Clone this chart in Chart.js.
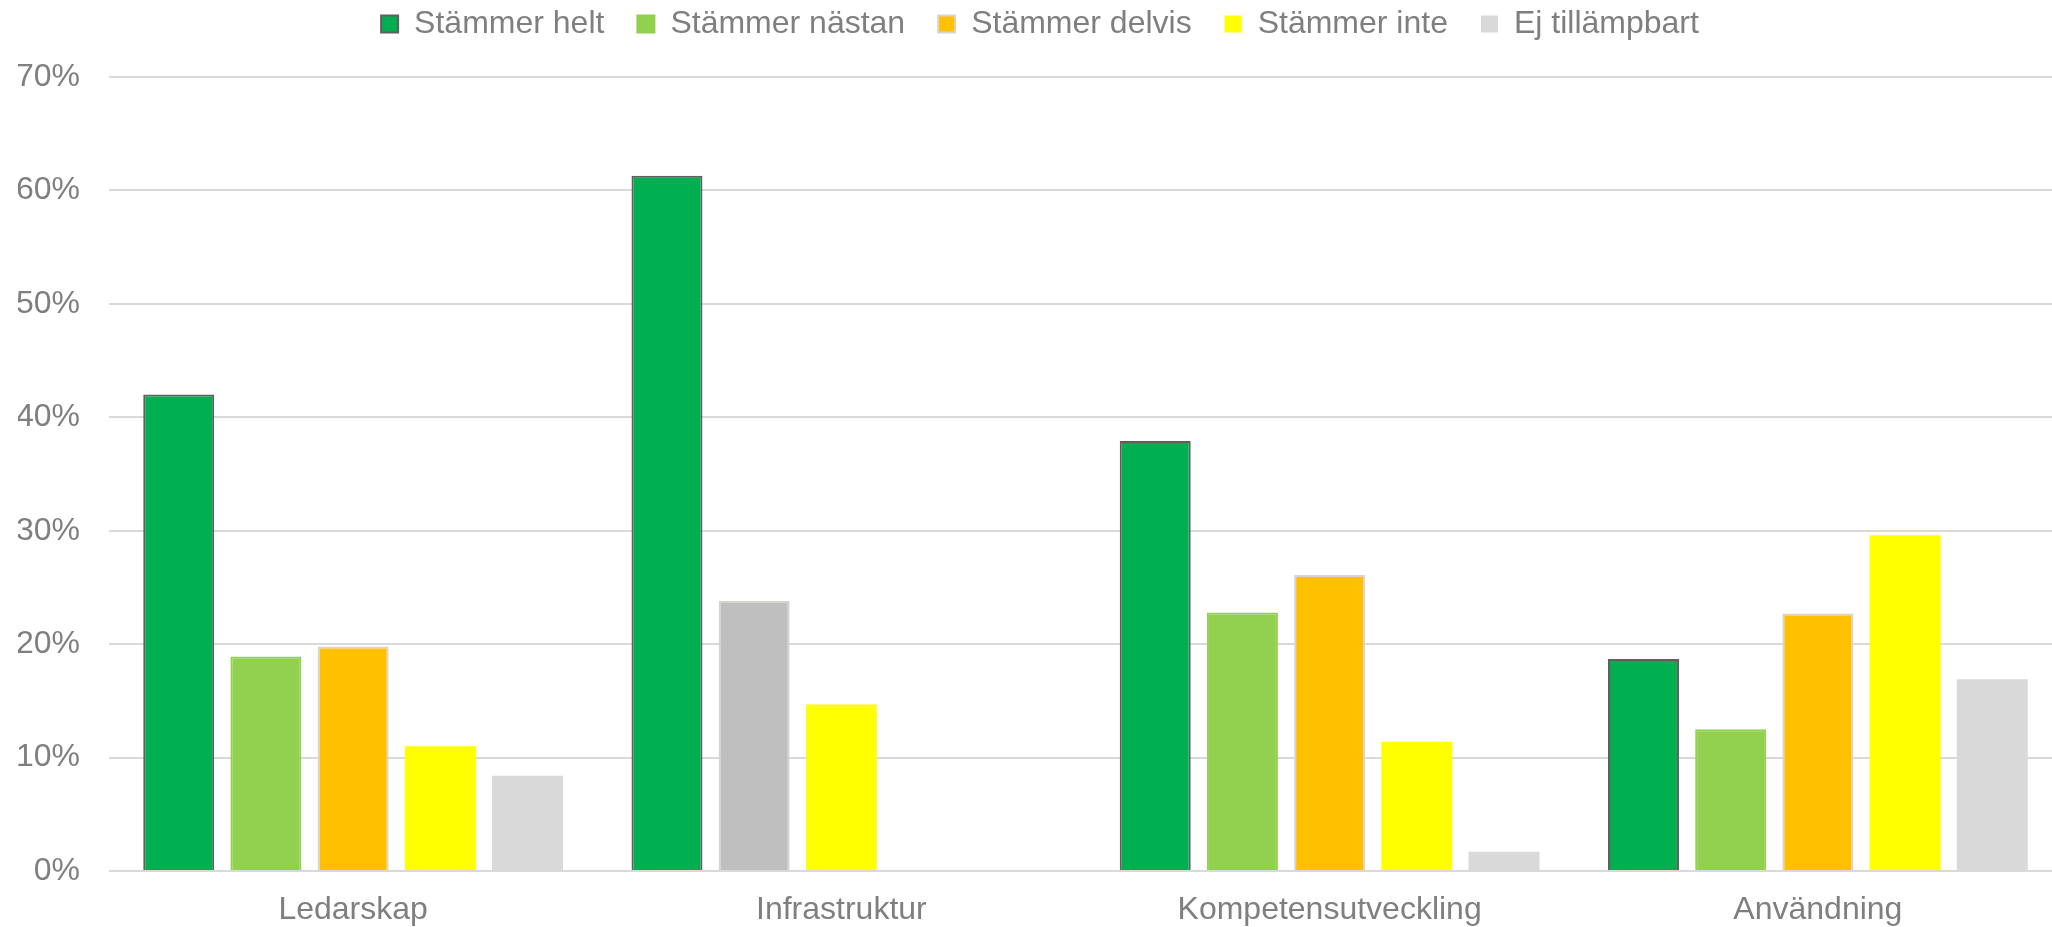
<!DOCTYPE html>
<html>
<head>
<meta charset="utf-8">
<script src="https://cdn.jsdelivr.net/npm/chart.js@4/dist/chart.umd.min.js"></script>
<style>
  html, body { margin: 0; padding: 0; background: #fff; overflow: hidden; }
  #wrap { width: 2062px; height: 927px; }
</style>
</head>
<body>
<div id="wrap"><canvas id="chart"></canvas></div>
<script>
// kategorier och serier (procent)
const categories = ['Ledarskap', 'Infrastruktur', 'Kompetensutveckling', 'Användning'];
const seriesNames = ['Stämmer helt', 'Stämmer nästan', 'Stämmer delvis', 'Stämmer inte', 'Ej tillämpbart'];
const helt = [42.0, 61.3, 37.9, 18.7];
const nastan = [18.9, 23.8, 22.8, 12.5];
const delvis = [19.8, 14.7, 26.1, 22.7];
const inte = [11.0, 0, 11.4, 29.6];
const ejTillampbart = [8.4, 0, 1.7, 16.9];
const yTicks = [0, 10, 20, 30, 40, 50, 60, 70];

// Infrastruktur har avvikande färger i originalet
const nastanFill = ['#92D050', '#BFBFBF', '#92D050', '#92D050'];
const nastanBorder = ['#92D050', '#D6D2CE', '#92D050', '#92D050'];
const delvisFill = ['#FFC000', '#FFFF00', '#FFC000', '#FFC000'];
const delvisBorder = ['#D9D4CF', '#FFFF00', '#D9D4CF', '#D9D4CF'];

function perPoint(arr, base) {
    return function(ctx) {
        return ctx.dataIndex === undefined ? base : arr[ctx.dataIndex];
    };
}

const font = { family: "'Liberation Sans', Arial, sans-serif", size: 32 };
const textColor = '#7F7F7F';

// flytta upp legenden utan att ändra diagramytan
const legendShift = {
    id: 'legendShift',
    afterLayout(chart) {
        chart.legend.top -= 27;
        chart.legend.bottom -= 27;
    }
};

new Chart(document.getElementById('chart').getContext('2d'), {
    type: 'bar',
    data: {
        labels: categories,
        datasets: [
            { label: seriesNames[0], data: helt, backgroundColor: '#00B050', borderColor: '#5F5F5F', borderWidth: 2 },
            { label: seriesNames[1], data: nastan, backgroundColor: perPoint(nastanFill, '#92D050'), borderColor: perPoint(nastanBorder, '#92D050'), borderWidth: 2 },
            { label: seriesNames[2], data: delvis, backgroundColor: perPoint(delvisFill, '#FFC000'), borderColor: perPoint(delvisBorder, '#D9D4CF'), borderWidth: 2 },
            { label: seriesNames[3], data: inte, backgroundColor: '#FFFF00', borderColor: '#FFFF00', borderWidth: 0 },
            { label: seriesNames[4], data: ejTillampbart, backgroundColor: '#D9D9D9', borderColor: '#D9D9D9', borderWidth: 0 }
        ]
    },
    options: {
        responsive: true,
        maintainAspectRatio: false,
        animation: false,
        layout: { padding: { left: 18, right: 0, top: 2, bottom: 0 } },
        datasets: {
            bar: { categoryPercentage: 0.893, barPercentage: 0.814 }
        },
        scales: {
            x: {
                grid: { display: false },
                border: { display: false },
                ticks: { color: textColor, font: Object.assign({ lineHeight: 1 }, font), padding: 15, maxRotation: 0 },
                afterFit: function(axis) { axis.height = 56; }
            },
            y: {
                min: yTicks[0],
                max: yTicks[yTicks.length - 1],
                afterBuildTicks: function(axis) {
                    axis.ticks = yTicks.map(v => ({ value: v }));
                },
                afterFit: function(axis) { axis.width = 91; },
                grid: { color: '#D9D9D9', lineWidth: 2, drawTicks: false },
                border: { display: false },
                ticks: {
                    color: textColor,
                    font: font,
                    padding: 29,
                    callback: function(value) { return value + '%'; }
                }
            }
        },
        plugins: {
            legend: {
                position: 'top',
                labels: {
                    color: textColor,
                    font: font,
                    boxWidth: 17,
                    boxHeight: 17,
                    padding: 33
                }
            },
            tooltip: { enabled: false }
        }
    },
    plugins: [legendShift]
});
</script>
</body>
</html>
